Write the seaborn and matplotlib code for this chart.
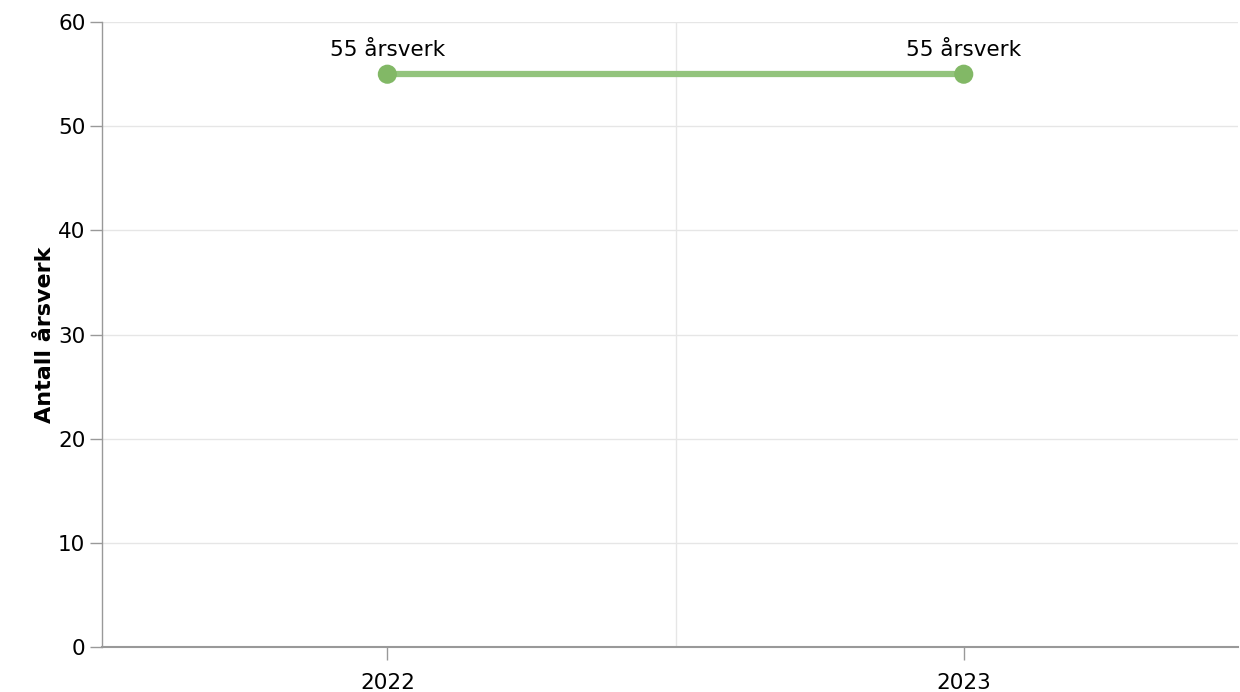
import numpy as np
import pandas as pd
import matplotlib
matplotlib.use('Agg')
import matplotlib.pyplot as plt
import seaborn as sns

years = ['2022', '2023']
arsverk = [55, 55]
labels = ['55 årsverk', '55 årsverk']

df = pd.DataFrame({'year': years, 'value': arsverk})

sns.set_style('white')
plt.rcParams['font.family'] = ['DejaVu Sans']

fig = plt.figure(figsize=(12.4, 6.92), dpi=100)
ax = fig.add_axes([0.0823, 0.065, 0.9157, 0.903])

x = np.arange(len(years))
sns.lineplot(x=x, y=df['value'], ax=ax, color='#93c47d', linewidth=4.5, zorder=3)
sns.scatterplot(x=x, y=df['value'], ax=ax, color='#82b866', s=190, edgecolor='none', zorder=4)

for xi, v, lab in zip(x, arsverk, labels):
    ax.annotate(lab, (xi, v), xytext=(0, 10), textcoords='offset points',
                ha='center', va='bottom', fontsize=15.5, color='black')

ax.set_xlim(-0.495, 1.475)
ax.set_ylim(0, 60)
ax.set_yticks(range(0, 61, 10))
ax.set_xticks(x)
ax.set_xticklabels(years)
ax.tick_params(axis='both', labelsize=15.5, colors='#999999', labelcolor='black',
               length=9, width=1, direction='out', left=True, bottom=True)
ax.tick_params(axis='x', pad=10)
ax.tick_params(axis='y', pad=3)

# grid
for yv in range(10, 61, 10):
    ax.axhline(yv, color='#e6e6e6', linewidth=1, zorder=1)
ax.axvline(0.5, color='#e6e6e6', linewidth=1, zorder=1)

for s in ['top', 'right']:
    ax.spines[s].set_visible(False)
for s in ['left', 'bottom']:
    ax.spines[s].set_color('#999999')
    ax.spines[s].set_linewidth(1)
ax.spines['bottom'].set_linewidth(1.5)

ax.set_xlabel('')
ax.set_ylabel('Antall årsverk', fontsize=16, fontweight='bold', color='black', labelpad=2)

fig.savefig('out.png', dpi=100)
